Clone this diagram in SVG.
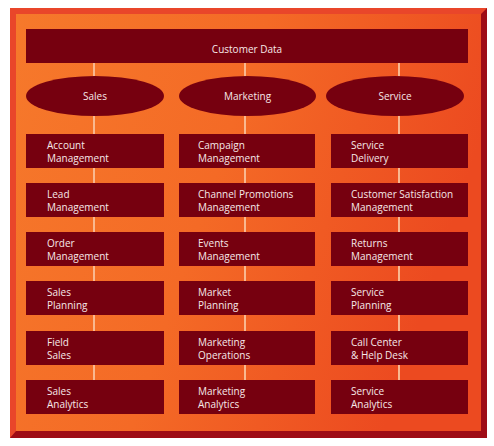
<svg xmlns="http://www.w3.org/2000/svg" width="494" height="446" viewBox="0 0 494 446">
<defs>
<linearGradient id="bg" x1="0" y1="0" x2="1" y2="0.3">
<stop offset="0" stop-color="#f6792b"/>
<stop offset="0.5" stop-color="#f46a26"/>
<stop offset="1" stop-color="#ec4a20"/>
</linearGradient>
<style>
.box{fill:#76000f}
.t{font-family:"Open Sans","Noto Sans",sans-serif;font-size:10px;fill:#f7e8e8}
.c{text-anchor:middle}
.ln{stroke:#f9b890;stroke-width:2;fill:none}
</style>
</defs>
<rect width="494" height="446" fill="#ffffff"/>
<g id="frame">
<rect x="10" y="8" width="477" height="430" fill="#9e0c16"/>
<polygon points="10,8 487,8 481,14 16,14 16,431 10,438" fill="#e9462a"/>
<rect x="16" y="14" width="465" height="417" fill="url(#bg)"/>
</g>
<g id="connectors">
<path class="ln" d="M94,63V76M245,63V76M399,63V76M94,116V134M245,116V134M399,116V134M94,168V183M245,168V183M399,168V183M94,217V232M245,217V232M399,217V232M94,266V281M245,266V281M399,266V281M94,315V331M245,315V331M399,315V331M94,365V380M245,365V380M399,365V380"/>
</g>
<g id="customer-data"><rect class="box" x="26" y="29" width="442" height="34"/><text class="t c" x="247" y="53">Customer Data</text></g>
<g id="sales"><ellipse class="box" cx="95" cy="96" rx="69" ry="20"/><text class="t c" x="95" y="100">Sales</text></g>
<g id="marketing"><ellipse class="box" cx="247.5" cy="96" rx="68.5" ry="20"/><text class="t c" x="247.5" y="100">Marketing</text></g>
<g id="service"><ellipse class="box" cx="395" cy="96" rx="69" ry="20"/><text class="t c" x="395" y="100">Service</text></g>

<g id="account-management"><rect class="box" x="26" y="134" width="138" height="34"/><text class="t" x="47" y="148.5">Account</text><text class="t" x="47" y="161.5">Management</text></g>
<g id="lead-management"><rect class="box" x="26" y="183" width="138" height="34"/><text class="t" x="47" y="197.5">Lead</text><text class="t" x="47" y="210.5">Management</text></g>
<g id="order-management"><rect class="box" x="26" y="232" width="138" height="34"/><text class="t" x="47" y="246.5">Order</text><text class="t" x="47" y="259.5">Management</text></g>
<g id="sales-planning"><rect class="box" x="26" y="281" width="138" height="34"/><text class="t" x="47" y="295.5">Sales</text><text class="t" x="47" y="308.5">Planning</text></g>
<g id="field-sales"><rect class="box" x="26" y="331" width="138" height="34"/><text class="t" x="47" y="345.5">Field</text><text class="t" x="47" y="358.5">Sales</text></g>
<g id="sales-analytics"><rect class="box" x="26" y="380" width="138" height="34"/><text class="t" x="47" y="394.5">Sales</text><text class="t" x="47" y="407.5">Analytics</text></g>

<g id="campaign-management"><rect class="box" x="179" y="134" width="136" height="34"/><text class="t" x="198" y="148.5">Campaign</text><text class="t" x="198" y="161.5">Management</text></g>
<g id="channel-promotions-management"><rect class="box" x="179" y="183" width="136" height="34"/><text class="t" x="198" y="197.5">Channel Promotions</text><text class="t" x="198" y="210.5">Management</text></g>
<g id="events-management"><rect class="box" x="179" y="232" width="136" height="34"/><text class="t" x="198" y="246.5">Events</text><text class="t" x="198" y="259.5">Management</text></g>
<g id="market-planning"><rect class="box" x="179" y="281" width="136" height="34"/><text class="t" x="198" y="295.5">Market</text><text class="t" x="198" y="308.5">Planning</text></g>
<g id="marketing-operations"><rect class="box" x="179" y="331" width="136" height="34"/><text class="t" x="198" y="345.5">Marketing</text><text class="t" x="198" y="358.5">Operations</text></g>
<g id="marketing-analytics"><rect class="box" x="179" y="380" width="136" height="34"/><text class="t" x="198" y="394.5">Marketing</text><text class="t" x="198" y="407.5">Analytics</text></g>

<g id="service-delivery"><rect class="box" x="331" y="134" width="137" height="34"/><text class="t" x="351" y="148.5">Service</text><text class="t" x="351" y="161.5">Delivery</text></g>
<g id="customer-satisfaction-management"><rect class="box" x="331" y="183" width="137" height="34"/><text class="t" x="351" y="197.5">Customer Satisfaction</text><text class="t" x="351" y="210.5">Management</text></g>
<g id="returns-management"><rect class="box" x="331" y="232" width="137" height="34"/><text class="t" x="351" y="246.5">Returns</text><text class="t" x="351" y="259.5">Management</text></g>
<g id="service-planning"><rect class="box" x="331" y="281" width="137" height="34"/><text class="t" x="351" y="295.5">Service</text><text class="t" x="351" y="308.5">Planning</text></g>
<g id="call-center-help-desk"><rect class="box" x="331" y="331" width="137" height="34"/><text class="t" x="351" y="345.5">Call Center</text><text class="t" x="351" y="358.5">&amp; Help Desk</text></g>
<g id="service-analytics"><rect class="box" x="331" y="380" width="137" height="34"/><text class="t" x="351" y="394.5">Service</text><text class="t" x="351" y="407.5">Analytics</text></g>
</svg>
